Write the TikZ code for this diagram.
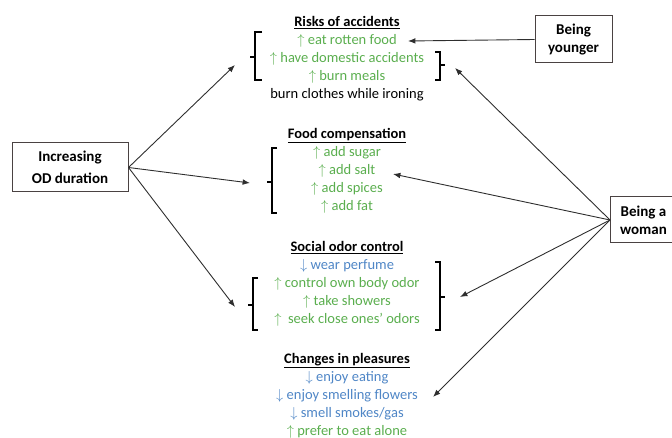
\documentclass[tikz,border=0pt]{standalone}
\usepackage{fontspec}
\setmainfont{Carlito}
\usepackage{tikz}
\usetikzlibrary{arrows.meta,positioning}
\definecolor{upgreen}{HTML}{5AAE4E}
\definecolor{downblue}{HTML}{4F86C6}
\definecolor{boxline}{HTML}{4A4242}
\definecolor{arrowgray}{HTML}{2E2E2E}
\newcommand{\incr}{$\uparrow$\ }
\newcommand{\decr}{$\downarrow$\ }

\begin{document}
\begin{tikzpicture}[
  x=1pt, y=-1pt,
  factor/.style={draw=boxline, line width=1pt, align=center, inner sep=2pt, font=\fontsize{15}{18}\selectfont\bfseries},
  head/.style={font=\fontsize{14.5}{17}\selectfont\bfseries, text height=10pt, text depth=3pt, inner xsep=1pt, inner ysep=2.3pt},
  item/.style={font=\fontsize{14.5}{17}\selectfont, text height=10pt, text depth=3pt, inner xsep=1pt, inner ysep=2.3pt},
  incitem/.style={item, text=upgreen},
  decitem/.style={item, text=downblue},
  bracket/.style={draw=black, line width=1.3pt},
  link/.style={-{Latex[length=2.6mm, width=2mm]}, draw=arrowgray, line width=0.9pt}
]
\useasboundingbox (0,0) rectangle (672,438);
\clip (0,0) rectangle (672,438);

% factors
\node[factor, minimum width=116pt, minimum height=49pt, font=\fontsize{15}{22}\selectfont\bfseries] (od) at (70,167.5) {Increasing\\OD duration};
\node[factor, minimum width=77pt, minimum height=47pt] (young) at (573.5,39.5) {Being\\younger};
\node[factor, minimum width=66pt, minimum height=46pt, anchor=west] (woman) at (610,220) {Being a\\woman};

% risks of accidents
\node[head] (riskT) at (347,23) {\underline{Risks of accidents}};
\node[incitem, below=0pt of riskT] (risk1) {\incr eat rotten food};
\node[incitem, below=0pt of risk1] (risk2) {\incr have domestic accidents};
\node[incitem, below=0pt of risk2] (risk3) {\incr burn meals};
\node[item, below=0pt of risk3] (risk4) {burn clothes while ironing};

% food compensation
\node[head] (foodT) at (347,135) {\underline{Food compensation}};
\node[incitem, below=0pt of foodT] (food1) {\incr add sugar};
\node[incitem, below=0pt of food1] (food2) {\incr add salt};
\node[incitem, below=0pt of food2] (food3) {\incr add spices};
\node[incitem, below=0pt of food3] (food4) {\incr add fat};

% social odor control
\node[head] (socT) at (347,248) {\underline{Social odor control}};
\node[decitem, below=0pt of socT] (soc1) {\decr wear perfume};
\node[incitem, below=0pt of soc1] (soc2) {\incr control own body odor};
\node[incitem, below=0pt of soc2] (soc3) {\incr take showers};
\node[incitem, below=0pt of soc3] (soc4) {\incr\ seek close ones' odors};

% changes in pleasures
\node[head] (pleasT) at (347,360) {\underline{Changes in pleasures}};
\node[decitem, below=0pt of pleasT] (pleas1) {\decr enjoy eating};
\node[decitem, below=0pt of pleas1] (pleas2) {\decr enjoy smelling flowers};
\node[decitem, below=0pt of pleas2] (pleas3) {\decr smell smokes/gas};
\node[incitem, below=0pt of pleas3] (pleas4) {\incr prefer to eat alone};

% brackets
\draw[bracket] (262,32) -- (255,32) -- (255,80) -- (262,80) (255,57) -- (250,57);
\draw[bracket] (435,52) -- (440,52) -- (440,80) -- (435,80) (440,65) -- (445,65);
\draw[bracket] (277,148) -- (272,148) -- (272,213) -- (277,213) (272,182) -- (267,182);
\draw[bracket] (258,278) -- (253,278) -- (253,330) -- (258,330) (253,305) -- (248,305);
\draw[bracket] (435,262) -- (440,262) -- (440,330) -- (435,330) (440,297) -- (445,297);

% arrow ends
\coordinate (riskL) at (235,65);
\coordinate (riskR) at (455,68);
\coordinate (riskIn) at (408,41);
\coordinate (foodL) at (250,183);
\coordinate (foodIn) at (393,174);
\coordinate (socL) at (235,307);
\coordinate (socR) at (460,297);
\coordinate (pleasR) at (433,397);

\draw[link] (od.east) -- (riskL);
\draw[link] (od.east) -- (foodL);
\draw[link] (od.east) -- (socL);
\draw[link] (young.west) -- (riskIn);
\draw[link] (woman.west) -- (riskR);
\draw[link] (woman.west) -- (foodIn);
\draw[link] (woman.west) -- (socR);
\draw[link] (woman.west) -- (pleasR);
\end{tikzpicture}
\end{document}
